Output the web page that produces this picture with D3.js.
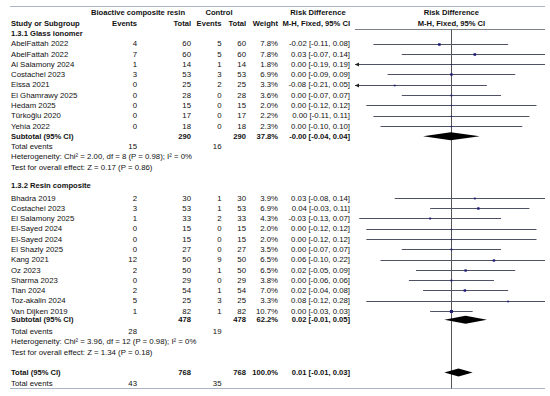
<!DOCTYPE html>
<html>
<head>
<meta charset="utf-8">
<script src="https://cdn.jsdelivr.net/npm/d3@7"></script>
<style>
  body { margin: 0; background: #fff; }
  text { font-family: "Liberation Sans", Arial, sans-serif; font-size: 7.8px; fill: #111; }
  .b { font-weight: bold; font-size: 7.6px; }
</style>
</head>
<body>
<div id="root"></div>
<script>
const width = 550
const height = 396

// study, exp events, exp total, ctrl events, ctrl total, weight %, RD, lower, upper
const glassIonomer = [
  ['AbelFattah 2022', 4, 60, 5, 60, 7.8, -0.017, -0.11, 0.08],
  ['AbelFattah 2022', 7, 60, 5, 60, 7.8, 0.033, -0.07, 0.14],
  ['Al Salamony 2024', 1, 14, 1, 14, 1.8, 0.00, -0.19, 0.19],
  ['Costachel 2023', 3, 53, 3, 53, 6.9, 0.00, -0.09, 0.09],
  ['Eissa 2021', 0, 25, 2, 25, 3.3, -0.08, -0.21, 0.05],
  ['El Ghamrawy 2025', 0, 28, 0, 28, 3.6, 0.00, -0.07, 0.07],
  ['Hedam 2025', 0, 15, 0, 15, 2.0, 0.00, -0.12, 0.12],
  ['Türkoğlu 2020', 0, 17, 0, 17, 2.2, 0.00, -0.11, 0.11],
  ['Yehia 2022', 0, 18, 0, 18, 2.3, 0.00, -0.10, 0.10]
]
const resinComposite = [
  ['Bhadra 2019', 2, 30, 1, 30, 3.9, 0.033, -0.08, 0.14],
  ['Costachel 2023', 3, 53, 1, 53, 6.9, 0.038, -0.03, 0.11],
  ['El Salamony 2025', 1, 33, 2, 33, 4.3, -0.03, -0.13, 0.07],
  ['El-Sayed 2024', 0, 15, 0, 15, 2.0, 0.00, -0.12, 0.12],
  ['El-Sayed 2024', 0, 15, 0, 15, 2.0, 0.00, -0.12, 0.12],
  ['El Shazly 2025', 0, 27, 0, 27, 3.5, 0.00, -0.07, 0.07],
  ['Kang 2021', 12, 50, 9, 50, 6.5, 0.06, -0.10, 0.22],
  ['Oz 2023', 2, 50, 1, 50, 6.5, 0.02, -0.05, 0.09],
  ['Sharma 2023', 0, 29, 0, 29, 3.8, 0.00, -0.06, 0.06],
  ['Tian 2024', 2, 54, 1, 54, 7.0, 0.019, -0.04, 0.08],
  ['Toz-akalin 2024', 5, 25, 3, 25, 3.3, 0.08, -0.12, 0.28],
  ['Van Dijken 2019', 1, 82, 1, 82, 10.7, 0.00, -0.03, 0.03]
]
// label, exp total, ctrl total, weight, RD, lower, upper, exp events, ctrl events
const subtotals = [
  ['Subtotal (95% CI)', 290, 290, 37.8, -0.001, -0.04, 0.04, 15, 16],
  ['Subtotal (95% CI)', 478, 478, 62.2, 0.02, -0.01, 0.05, 28, 19]
]
const overall = ['Total (95% CI)', 768, 768, 100.0, 0.01, -0.01, 0.03, 43, 35]
const groupNames = ['1.3.1 Glass ionomer', '1.3.2 Resin composite']
const heterogeneity = [
  'Heterogeneity: Chi² = 2.00, df = 8 (P = 0.98); I² = 0%',
  'Heterogeneity: Chi² = 3.96, df = 12 (P = 0.98); I² = 0%'
]
const overallEffect = [
  'Test for overall effect: Z = 0.17 (P = 0.86)',
  'Test for overall effect: Z = 1.34 (P = 0.18)'
]

const col = { study: 11, expEv: 137, expTot: 191, ctlEv: 221.5, ctlTot: 246, weight: 278, ci: 350 }
const plotL = 355
const plotR = 545

const svg = d3.select('#root').append('svg')
  .attr('width', width)
  .attr('height', height)

const x = d3.scaleLinear().domain([-0.136, 0.132]).range([plotL, plotR])
const y = d3.scaleLinear().domain([0, 36]).range([12.8, 12.8 + 36 * 10.28])
const size = d3.scaleSqrt().domain([0, 10.7]).range([0, 3])

const fmt = v => v.toFixed(2)
const ciText = (e, lo, hi) => `${fmt(e)} [${fmt(lo)}, ${fmt(hi)}]`

function txt (xp, k, s, anchor = 'start', bold = false) {
  svg.append('text')
    .attr('x', xp)
    .attr('y', y(k))
    .attr('dy', '0.35em')
    .attr('text-anchor', anchor)
    .attr('class', bold ? 'b' : null)
    .text(s)
}

// rules
const rule = '#aab6c8'
svg.append('line').attr('x1', 10).attr('x2', plotR).attr('y1', 6.5).attr('y2', 6.5).attr('stroke', rule)
svg.append('line').attr('x1', 10).attr('x2', plotR).attr('y1', 388.5).attr('y2', 388.5).attr('stroke', rule)
svg.append('line').attr('x1', plotL).attr('x2', plotR).attr('y1', 29.5).attr('y2', 29.5).attr('stroke', '#7d828c')
svg.append('line')
  .attr('x1', Math.round(x(0)) + 0.5).attr('x2', Math.round(x(0)) + 0.5)
  .attr('y1', 29.5).attr('y2', 388.5)
  .attr('stroke', '#555')

// headers
txt(138, 0, 'Bioactive composite resin', 'middle', true)
txt(219, 0, 'Control', 'middle', true)
txt(318, 0, 'Risk Difference', 'middle', true)
txt(x(0), 0, 'Risk Difference', 'middle', true)
txt(col.study, 1, 'Study or Subgroup', 'start', true)
txt(col.expEv, 1, 'Events', 'end', true)
txt(col.expTot, 1, 'Total', 'end', true)
txt(col.ctlEv, 1, 'Events', 'end', true)
txt(col.ctlTot, 1, 'Total', 'end', true)
txt(col.weight, 1, 'Weight', 'end', true)
txt(col.ci, 1, 'M-H, Fixed, 95% CI', 'end', true)
txt(x(0), 1, 'M-H, Fixed, 95% CI', 'middle', true)

function diamond (k, e, lo, hi) {
  const yy = y(k)
  svg.append('path')
    .attr('d', `M${x(lo)},${yy}L${x(e)},${yy - 4}L${x(hi)},${yy}L${x(e)},${yy + 4}Z`)
    .attr('fill', '#000')
}

function studyRow (k, d) {
  const [name, ee, et, ce, ct, w, e, lo, hi] = d
  txt(col.study, k, name)
  txt(col.expEv, k, ee, 'end')
  txt(col.expTot, k, et, 'end')
  txt(col.ctlEv, k, ce, 'end')
  txt(col.ctlTot, k, ct, 'end')
  txt(col.weight, k, w.toFixed(1) + '%', 'end')
  txt(col.ci, k, ciText(e, lo, hi), 'end')
  const [xMin, xMax] = x.domain()
  const yy = Math.round(y(k)) + 0.5
  svg.append('line')
    .attr('x1', x(Math.max(lo, xMin))).attr('x2', x(Math.min(hi, xMax)))
    .attr('y1', yy).attr('y2', yy)
    .attr('stroke', '#4f5264')
  if (lo < xMin) {
    svg.append('path')
      .attr('d', `M${plotL},${yy}L${plotL + 4},${yy - 2}L${plotL + 4},${yy + 2}Z`)
      .attr('fill', '#222')
  }
  const s = size(w)
  svg.append('rect')
    .attr('x', x(e) - s / 2).attr('y', yy - s / 2)
    .attr('width', s).attr('height', s)
    .attr('fill', '#1c1c78')
}

const groups = [glassIonomer, resinComposite]
let k = 2
groups.forEach((rows, gi) => {
  txt(col.study, gi === 0 ? k : k - 0.25, groupNames[gi], 'start', true)
  k++
  rows.forEach(d => { studyRow(k, d); k++ })
  const [label, et, ct, w, e, lo, hi, ee, ce] = subtotals[gi]
  const ks = gi === 0 ? k : k - 0.15
  txt(col.study, ks, label, 'start', true)
  txt(col.expTot, ks, et, 'end', true)
  txt(col.ctlTot, ks, ct, 'end', true)
  txt(col.weight, ks, w.toFixed(1) + '%', 'end', true)
  txt(col.ci, ks, ciText(e, lo, hi), 'end', true)
  diamond(ks, e, lo, hi)
  k++
  txt(col.study, k, 'Total events')
  txt(col.expEv, k, ee, 'end')
  txt(col.ctlEv, k, ce, 'end')
  k++
  txt(col.study, k, heterogeneity[gi])
  k++
  txt(col.study, k, overallEffect[gi])
  k += 2
})

{
  const [label, et, ct, w, e, lo, hi, ee, ce] = overall
  txt(col.study, k, label, 'start', true)
  txt(col.expTot, k, et, 'end', true)
  txt(col.ctlTot, k, ct, 'end', true)
  txt(col.weight, k, w.toFixed(1) + '%', 'end', true)
  txt(col.ci, k, ciText(e, lo, hi), 'end', true)
  diamond(k, e, lo, hi)
  k++
  txt(col.study, k, 'Total events')
  txt(col.expEv, k, ee, 'end')
  txt(col.ctlEv, k, ce, 'end')
}
</script>
</body>
</html>
